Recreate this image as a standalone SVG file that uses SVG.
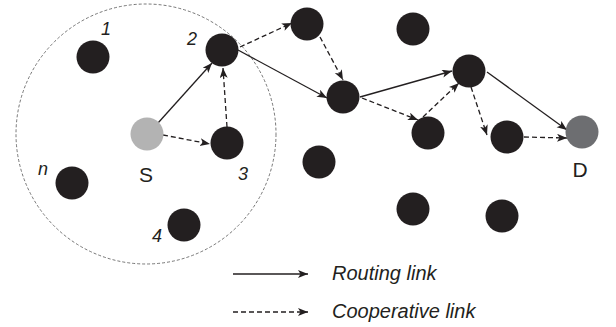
<svg xmlns="http://www.w3.org/2000/svg" width="616" height="327" viewBox="0 0 616 327">
<style>
.node{fill:#231f20}
.lbl{font-family:"Liberation Sans",Arial,sans-serif;fill:#231f20}
.num{font-size:18px;font-style:italic;text-anchor:middle}
.big{font-size:21px;text-anchor:middle}
.leg{font-size:20px;font-style:italic}
.solid{stroke:#231f20;stroke-width:1.3;fill:none;marker-end:url(#ah)}
.dash{stroke:#231f20;stroke-width:1.3;fill:none;stroke-dasharray:5 3;marker-end:url(#ah)}
</style>
<defs>
<marker id="ah" markerUnits="userSpaceOnUse" markerWidth="12" markerHeight="10" refX="10" refY="4" orient="auto" viewBox="0 0 12 10">
<path d="M0,0 L10,4 L0,8 L2.5,4 z" fill="#231f20"/>
</marker>
</defs>
<rect width="616" height="327" fill="#fff"/>
<circle id="range" cx="146" cy="134" r="130" fill="none" stroke="#555" stroke-width="0.8" stroke-dasharray="3 2"/>
<g id="connectors">
<line class="solid" x1="158" y1="123" x2="212" y2="63"/>
<line class="dash" x1="163" y1="135" x2="210" y2="144"/>
<line class="dash" x1="227" y1="127" x2="223" y2="68"/>
<line class="dash" x1="240" y1="47" x2="292" y2="23"/>
<line class="solid" x1="238" y1="50" x2="327" y2="98"/>
<line class="dash" x1="320" y1="37" x2="343" y2="80"/>
<line class="solid" x1="360" y1="97" x2="452" y2="71"/>
<line class="dash" x1="362" y1="98" x2="418" y2="120"/>
<line class="dash" x1="423" y1="117" x2="459" y2="83"/>
<line class="dash" x1="471" y1="87" x2="487" y2="135"/>
<line class="solid" x1="487" y1="72" x2="567" y2="130"/>
<line class="dash" x1="524" y1="137" x2="567" y2="138"/>
</g>
<g id="node-S"><circle cx="147" cy="134" r="16.5" fill="#b3b3b3"/><text class="lbl big" x="146" y="182">S</text></g>
<g id="node-1"><circle class="node" cx="93" cy="57" r="16.5"/><text class="lbl num" x="106" y="35">1</text></g>
<g id="node-2"><circle class="node" cx="222" cy="50" r="16.5"/><text class="lbl num" x="192" y="45">2</text></g>
<g id="node-3"><circle class="node" cx="227" cy="143" r="16.5"/><text class="lbl num" x="243" y="180">3</text></g>
<g id="node-n"><circle class="node" cx="72" cy="183" r="16.5"/><text class="lbl num" x="43" y="175">n</text></g>
<g id="node-4"><circle class="node" cx="184" cy="225" r="16.5"/><text class="lbl num" x="157" y="242">4</text></g>
<g id="node-a"><circle class="node" cx="307" cy="24" r="16.5"/></g>
<g id="node-b"><circle class="node" cx="413" cy="29" r="16.5"/></g>
<g id="node-c"><circle class="node" cx="343" cy="97" r="16.5"/></g>
<g id="node-e"><circle class="node" cx="469" cy="71" r="16.5"/></g>
<g id="node-f"><circle class="node" cx="428" cy="133" r="16.5"/></g>
<g id="node-g"><circle class="node" cx="507" cy="137" r="16.5"/></g>
<g id="node-h"><circle class="node" cx="319" cy="162" r="16.5"/></g>
<g id="node-i"><circle class="node" cx="413" cy="209" r="16.5"/></g>
<g id="node-j"><circle class="node" cx="502" cy="216" r="16.5"/></g>
<g id="node-D"><circle cx="582" cy="132" r="16.5" fill="#6d6e71"/><text class="lbl big" x="580" y="177">D</text></g>
<g id="legend">
<line class="solid" x1="233" y1="274" x2="308" y2="274"/>
<text class="lbl leg" x="332" y="280">Routing link</text>
<line class="dash" x1="233" y1="312" x2="308" y2="312"/>
<text class="lbl leg" x="332" y="318">Cooperative link</text>
</g>
</svg>
